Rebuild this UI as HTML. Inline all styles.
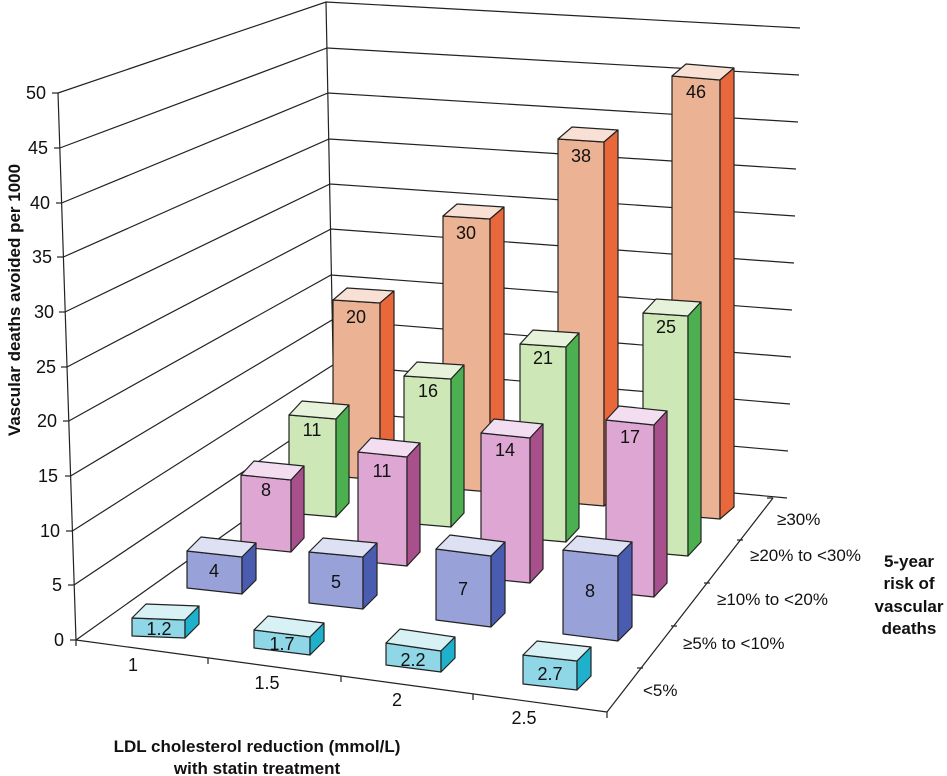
<!DOCTYPE html>
<html><head><meta charset="utf-8"><style>
body{margin:0;background:#fff}
svg{display:block}
text{font-family:"Liberation Sans",Arial,sans-serif;fill:#111}
.l{font-size:18px;text-anchor:middle}
.b{font-weight:bold;font-size:17px;text-anchor:middle}
polygon{stroke:#222;stroke-width:1.2;stroke-linejoin:round}
</style></head><body>
<svg width="947" height="776" viewBox="0 0 947 776">
<g stroke="#222" stroke-width="1.2" fill="none">
<polyline points="76,640 335,456 787,498"/>
<polyline points="74,585 334,411 788,451"/>
<polyline points="72.4,531 333,365 790,404"/>
<polyline points="70.6,476 332,320 791,357"/>
<polyline points="68.8,421 331,275 792,310"/>
<polyline points="67,367 331,229 794,263"/>
<polyline points="65,312 330,184 795,216"/>
<polyline points="63.4,257 329,139 796,169"/>
<polyline points="61.6,203 328,93 798,122"/>
<polyline points="59.8,148 327,48 799,75"/>
<polyline points="58,93 326,2 800,28"/>
<line x1="58" y1="93" x2="76" y2="640"/>
<line x1="326" y1="2" x2="335" y2="456"/>
<line x1="52" y1="93" x2="58" y2="93"/><line x1="54" y1="148" x2="60" y2="148"/>
<line x1="56" y1="203" x2="62" y2="203"/><line x1="57" y1="257" x2="63" y2="257"/>
<line x1="59" y1="312" x2="65" y2="312"/><line x1="61" y1="367" x2="67" y2="367"/>
<line x1="63" y1="421" x2="69" y2="421"/><line x1="65" y1="476" x2="71" y2="476"/>
<line x1="66" y1="531" x2="72" y2="531"/><line x1="68" y1="585" x2="74" y2="585"/>
<line x1="70" y1="640" x2="76" y2="640"/>
<line x1="76" y1="640" x2="607" y2="712"/>
<line x1="607" y1="712" x2="773" y2="498"/>
<line x1="76" y1="640" x2="76" y2="646"/>
<line x1="208" y1="658" x2="208" y2="664"/>
<line x1="341" y1="676" x2="341" y2="682"/>
<line x1="473" y1="694" x2="473" y2="700"/>
<line x1="607" y1="712" x2="607" y2="718"/>
<line x1="643" y1="668" x2="637" y2="668"/>
<line x1="677" y1="626" x2="671" y2="626"/>
<line x1="710" y1="583" x2="704" y2="583"/>
<line x1="743" y1="540" x2="737" y2="540"/>
<line x1="773" y1="498" x2="767" y2="498"/>
</g>
<g font-size="18" text-anchor="end">
<text x="46" y="99">50</text><text x="48" y="154">45</text><text x="50" y="209">40</text>
<text x="52" y="263">35</text><text x="54" y="318">30</text><text x="56" y="373">25</text>
<text x="57" y="427">20</text><text x="58" y="482">15</text><text x="60" y="537">10</text>
<text x="62" y="591">5</text><text x="64" y="646">0</text>
</g>

<g>
<polygon fill="#ecb294" points="333,300 380,303 380,480 333,476"/><polygon fill="#f9e0d4" points="333,300 380,303 394,291 347,288"/><polygon fill="#e8683c" points="380,303 394,291 394,468 380,480"/>
<polygon fill="#ecb294" points="443,216 490,219 490,492 443,488"/><polygon fill="#f9e0d4" points="443,216 490,219 504,207 457,204"/><polygon fill="#e8683c" points="490,219 504,207 504,480 490,492"/>
<polygon fill="#ecb294" points="558,139 604,142 604,506 558,502"/><polygon fill="#f9e0d4" points="558,139 604,142 618,130 572,127"/><polygon fill="#e8683c" points="604,142 618,130 618,494 604,506"/>
<polygon fill="#ecb294" points="672,76 720,80 720,519 672,515"/><polygon fill="#f9e0d4" points="672,76 720,80 734,68 686,64"/><polygon fill="#e8683c" points="720,80 734,68 734,507 720,519"/>
</g>
<text class="l" x="356" y="323">20</text><text class="l" x="466" y="239">30</text><text class="l" x="581" y="162">38</text><text class="l" x="696" y="98">46</text>

<g>
<polygon fill="#cde8b6" points="289,415 336,419 336,517 289,513"/><polygon fill="#e6f3da" points="289,415 336,419 349,405 302,401"/><polygon fill="#4caf50" points="336,419 349,405 349,503 336,517"/>
<polygon fill="#cde8b6" points="404,376 451,379 451,527 404,523"/><polygon fill="#e6f3da" points="404,376 451,379 464,365 417,362"/><polygon fill="#4caf50" points="451,379 464,365 464,513 451,527"/>
<polygon fill="#cde8b6" points="520,344 566,347 566,542 520,538"/><polygon fill="#e6f3da" points="520,344 566,347 579,333 533,330"/><polygon fill="#4caf50" points="566,347 579,333 579,528 566,542"/>
<polygon fill="#cde8b6" points="643,313 688,316 688,556 643,552"/><polygon fill="#e6f3da" points="643,313 688,316 701,302 656,299"/><polygon fill="#4caf50" points="688,316 701,302 701,542 688,556"/>
</g>
<text class="l" x="312" y="436">11</text><text class="l" x="428" y="397">16</text><text class="l" x="543" y="364">21</text><text class="l" x="666" y="333">25</text>

<g>
<polygon fill="#dea6d2" points="241,475 291,480 291,552 241,547"/><polygon fill="#f2def0" points="241,475 291,480 304,466 254,461"/><polygon fill="#a8508c" points="291,480 304,466 304,538 291,552"/>
<polygon fill="#dea6d2" points="358,452 407,457 407,566 358,561"/><polygon fill="#f2def0" points="358,452 407,457 420,443 371,438"/><polygon fill="#a8508c" points="407,457 420,443 420,552 407,566"/>
<polygon fill="#dea6d2" points="481,433 530,438 530,583 481,578"/><polygon fill="#f2def0" points="481,433 530,438 543,424 494,419"/><polygon fill="#a8508c" points="530,438 543,424 543,569 530,583"/>
<polygon fill="#dea6d2" points="606,420 654,425 654,597 606,592"/><polygon fill="#f2def0" points="606,420 654,425 667,411 619,406"/><polygon fill="#a8508c" points="654,425 667,411 667,583 654,597"/>
</g>
<text class="l" x="266" y="496">8</text><text class="l" x="382" y="477">11</text><text class="l" x="505" y="456">14</text><text class="l" x="630" y="443">17</text>

<g>
<polygon fill="#98a2d8" points="187,551 242,557 242,594 187,588"/><polygon fill="#dde1f3" points="187,551 242,557 256,543 201,537"/><polygon fill="#4a5cb0" points="242,557 256,543 256,580 242,594"/>
<polygon fill="#98a2d8" points="309,552 363,557 363,609 309,603"/><polygon fill="#dde1f3" points="309,552 363,557 377,543 323,538"/><polygon fill="#4a5cb0" points="363,557 377,543 377,595 363,609"/>
<polygon fill="#98a2d8" points="436,549 491,556 491,627 436,620"/><polygon fill="#dde1f3" points="436,549 491,556 505,542 450,535"/><polygon fill="#4a5cb0" points="491,556 505,542 505,613 491,627"/>
<polygon fill="#98a2d8" points="563,550 618,556 618,641 563,634"/><polygon fill="#dde1f3" points="563,550 618,556 632,542 577,536"/><polygon fill="#4a5cb0" points="618,556 632,542 632,627 618,641"/>
</g>
<text class="l" x="214" y="577">4</text><text class="l" x="336" y="588">5</text><text class="l" x="463" y="595">7</text><text class="l" x="590" y="597">8</text>

<g>
<polygon fill="#8fd6e6" points="132,618 185,620 185,638 132,636"/><polygon fill="#d8f1f4" points="132,618 185,620 199,606 146,604"/><polygon fill="#1fb0cc" points="185,620 199,606 199,624 185,638"/>
<polygon fill="#8fd6e6" points="254,630 310,637 310,655 254,648"/><polygon fill="#d8f1f4" points="254,630 310,637 324,623 268,616"/><polygon fill="#1fb0cc" points="310,637 324,623 324,641 310,655"/>
<polygon fill="#8fd6e6" points="386,643 441,651 441,672 386,665"/><polygon fill="#d8f1f4" points="386,643 441,651 455,637 400,629"/><polygon fill="#1fb0cc" points="441,651 455,637 455,658 441,672"/>
<polygon fill="#8fd6e6" points="523,655 577,661 577,690 523,684"/><polygon fill="#d8f1f4" points="523,655 577,661 591,647 537,641"/><polygon fill="#1fb0cc" points="577,661 591,647 591,676 577,690"/>
</g>
<text class="l" x="159" y="635">1.2</text><text class="l" x="282" y="650">1.7</text><text class="l" x="413" y="666">2.2</text><text class="l" x="550" y="680">2.7</text>

<text class="l" x="133" y="671">1</text><text class="l" x="267" y="689">1.5</text>
<text class="l" x="397" y="706">2</text><text class="l" x="524" y="724">2.5</text>
<g font-size="17">
<text x="643" y="696">&lt;5%</text>
<text x="683" y="649">≥5% to &lt;10%</text>
<text x="717" y="605">≥10% to &lt;20%</text>
<text x="750" y="561">≥20% to &lt;30%</text>
<text x="777" y="525">≥30%</text>
</g>
<text class="b" x="909" y="567">5-year</text>
<text class="b" x="909" y="589">risk of</text>
<text class="b" x="909" y="612">vascular</text>
<text class="b" x="909" y="634">deaths</text>
<text class="b" x="257" y="752">LDL cholesterol reduction (mmol/L)</text>
<text class="b" x="257" y="774">with statin treatment</text>
<text class="b" transform="translate(20,300) rotate(-90)">Vascular deaths avoided per 1000</text>
</svg>
</body></html>
